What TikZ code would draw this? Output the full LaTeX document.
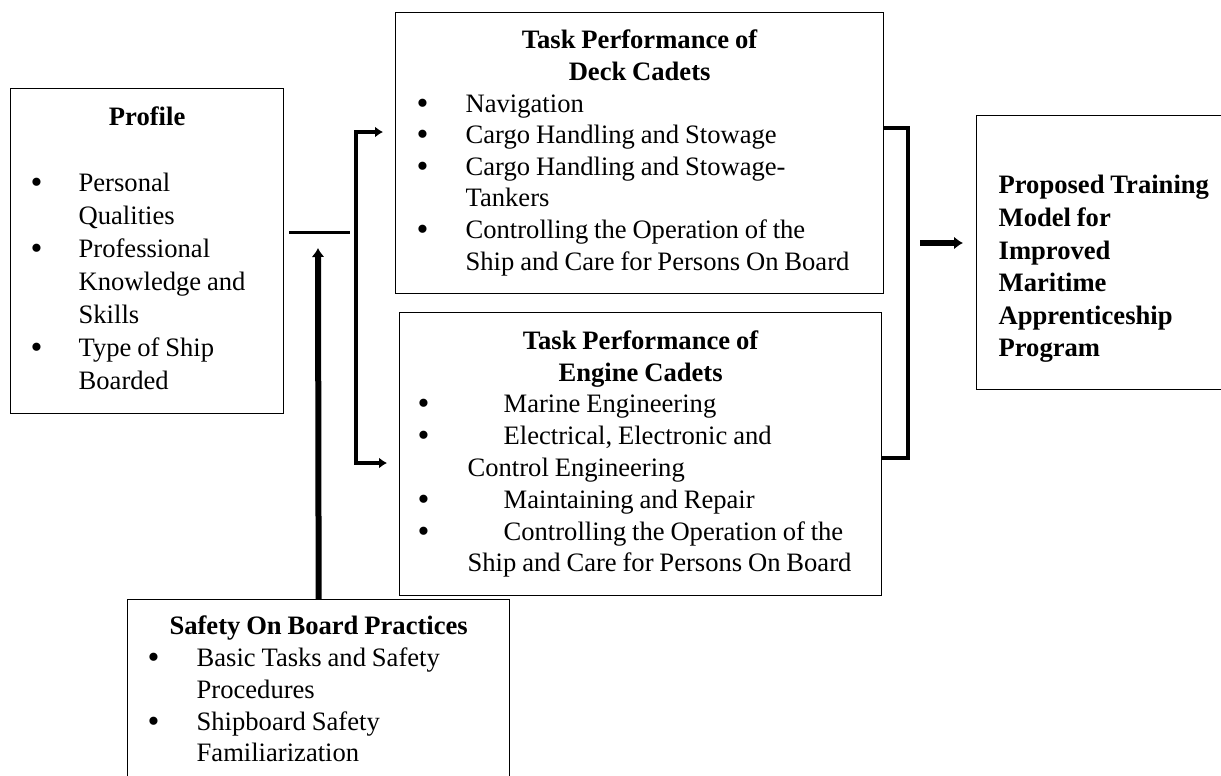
\documentclass[tikz,border=0pt]{standalone}
\usepackage{fontspec}
\setmainfont{Liberation Serif}
\usetikzlibrary{arrows.meta,positioning}
\newcommand{\bl}{\smash{\raisebox{-2pt}{\fontsize{34}{34}\selectfont\textbullet}}}
\newcommand{\tsp}{\spaceskip=0.22em plus 0.05em minus 0.03em\relax}
\tikzset{>=Latex,
  frame/.style={draw,line width=1.3pt,anchor=north west,inner xsep=0pt,inner ysep=0pt,align=left},
  txt/.style={font=\fontsize{26.6}{#1}\selectfont},
  link/.style={line width=3pt},
  rail/.style={line width=4.5pt},
  fork/.style={rail,{Latex[length=8pt,width=11pt]}-{Latex[length=8pt,width=11pt]},shorten <=12pt,shorten >=12pt},
  arr/.style={-{Latex[length=9pt,width=13pt]},line width=6pt}}
\begin{document}
\begin{tikzpicture}[x=1pt,y=-1pt]
\useasboundingbox (0,0) rectangle (1221,776);
% boxes
\node[frame,txt=33,text width=273pt,minimum height=325pt] (profile) at (10,88) {\tsp\noindent\begin{tabular}{@{\hspace{20pt}}p{48pt}@{}p{205pt}@{}}
\multicolumn{2}{@{}c@{}}{\textbf{Profile}}\\
&\\
\bl & Personal\\
 & Qualities\\
\bl & Professional\\
 & Knowledge and\\
 & Skills\\
\bl & Type of Ship\\
 & Boarded
\end{tabular}};
\node[frame,txt=31.6,text width=488pt,minimum height=281pt] (deck) at (395,12) {\tsp\noindent\begin{tabular}{@{\hspace{21pt}}p{49pt}@{}p{418pt}@{}}
\multicolumn{2}{@{}c@{}}{\textbf{Task Performance of}}\\
\multicolumn{2}{@{}c@{}}{\textbf{Deck Cadets}}\\
\bl & Navigation\\
\bl & Cargo Handling and Stowage\\
\bl & Cargo Handling and Stowage-\\
 & Tankers\\
\bl & Controlling the Operation of the\\
 & Ship and Care for Persons On Board
\end{tabular}};
\node[frame,txt=31.8,text width=482pt,minimum height=283pt] (engine) at (399,312) {\tsp\noindent\begin{tabular}{@{\hspace{18pt}}p{50pt}@{}p{414pt}@{}}
\multicolumn{2}{@{}c@{}}{\textbf{Task Performance of}}\\
\multicolumn{2}{@{}c@{}}{\textbf{Engine Cadets}}\\
\bl & \hspace*{36pt}Marine Engineering\\
\bl & \hspace*{36pt}Electrical, Electronic and\\
 & Control Engineering\\
\bl & \hspace*{36pt}Maintaining and Repair\\
\bl & \hspace*{36pt}Controlling the Operation of the\\
 & Ship and Care for Persons On Board
\end{tabular}};
\node[frame,txt=32.6,text width=264pt,minimum height=274pt] (model) at (976,115) {\tsp\noindent\begin{tabular}{@{\hspace{22pt}}l@{}}
\\
\textbf{Proposed Training}\\
\textbf{Model for}\\
\textbf{Improved}\\
\textbf{Maritime}\\
\textbf{Apprenticeship}\\
\textbf{Program}
\end{tabular}};
\node[frame,txt=31.75,text width=382pt,inner ysep=13pt] (safety) at (127,599) {\tsp\noindent\begin{tabular}{@{\hspace{20pt}}p{49pt}@{}p{313pt}@{}}
\multicolumn{2}{@{}c@{}}{\textbf{Safety On Board Practices}}\\
\bl & Basic Tasks and Safety\\
 & Procedures\\
\bl & Shipboard Safety\\
 & Familiarization
\end{tabular}};
% connectors
\coordinate (split) at (350,232);
\coordinate (ftop) at (356,132);
\coordinate (fbot) at (356,463);
\coordinate (jtop) at (908,128);
\coordinate (jbot) at (908,458);
\coordinate (mid) at (908,243);
\coordinate (hit) at (318,248);
\draw[link] ([xshift=5pt]profile.east |- split) -- (split);
\draw[fork] (deck.west |- ftop) -- (ftop) -- (fbot) -- (engine.west |- fbot);
\draw[arr] (safety.north) -- (hit);
\draw[rail,line width=4pt] (deck.east |- jtop) -- (jtop) -- (jbot) -- (engine.east |- jbot);
\draw[arr] ([xshift=12pt]mid) -- ([xshift=-13pt]model.west |- mid);
\end{tikzpicture}
\end{document}
